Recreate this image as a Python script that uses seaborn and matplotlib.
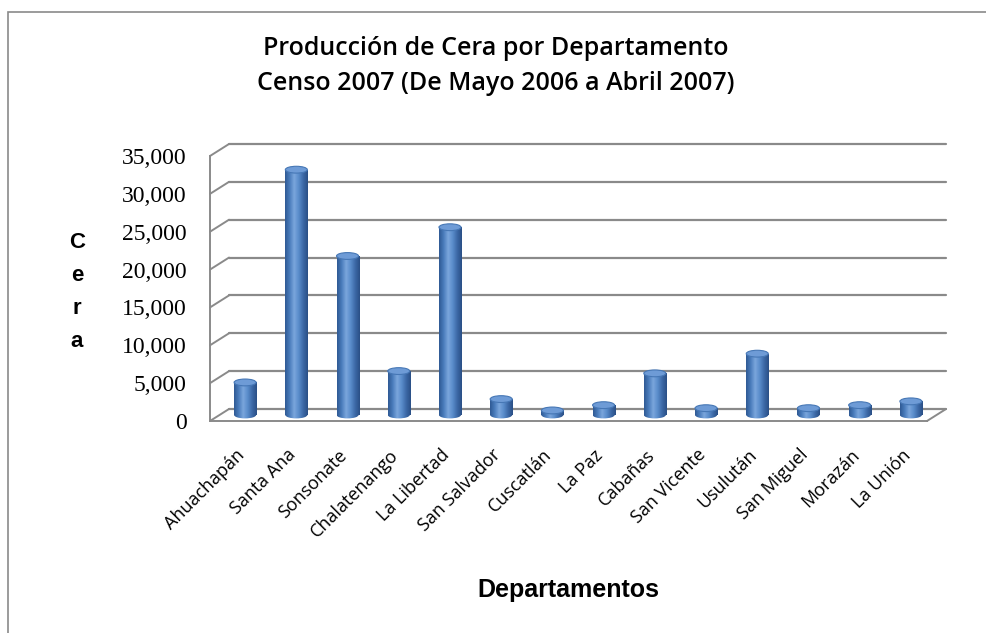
import numpy as np
import matplotlib
matplotlib.use("Agg")
import matplotlib.pyplot as plt
from matplotlib.patches import Ellipse, Rectangle
from matplotlib.colors import LinearSegmentedColormap
import seaborn as sns

# datos
departamentos = ["Ahuachapán", "Santa Ana", "Sonsonate", "Chalatenango", "La Libertad",
                 "San Salvador", "Cuscatlán", "La Paz", "Cabañas", "San Vicente",
                 "Usulután", "San Miguel", "Morazán", "La Unión"]
cera = [4300, 32400, 21000, 5800, 24800, 2100, 600, 1300, 5500, 900, 8100, 900, 1300, 1800]
y_ticks = [0, 5000, 10000, 15000, 20000, 25000, 30000, 35000]
y_max = 35000

titulo = "Producción de Cera por Departamento\nCenso 2007 (De Mayo 2006 a Abril 2007)"
GRID = "#8a8a8a"
BLUE = "#4f81bd"

sns.set_style("white")
plt.rcParams.update({"text.color": "black", "xtick.color": "black",
                     "ytick.color": "black"})
W, H = 986, 633
fig = plt.figure(figsize=(W / 100, H / 100), dpi=100)

# plano frontal del gráfico 3D (en píxeles)
x0, x1, y0, y1 = 210, 927, 421, 156
ax = fig.add_axes([x0 / W, 1 - y0 / H, (x1 - x0) / W, (y0 - y1) / H])
n = len(departamentos)
px_x = (x1 - x0) / n          # px por categoría
px_y = (y0 - y1) / y_max      # px por unidad
dx = 19 / px_x                # profundidad en unidades de datos
dy = 12 / px_y

sns.barplot(x=departamentos, y=cera, color=BLUE, width=0.43, ax=ax,
            saturation=1, edgecolor="none", zorder=5)
ax.set_xlim(-0.5, n - 0.5)
ax.set_ylim(0, y_max)

cyl = LinearSegmentedColormap.from_list(
    "cyl", ["#2f5a94", "#4a7cbc", "#7aa6dc", "#5a8ccb", "#3c69a6", "#2a4f86"])
grad = np.linspace(0, 1, 64).reshape(1, -1)
ell_h = 900

for p in ax.patches:
    p.set_x(p.get_x() + dx / 2)
    p.set_y(dy / 2)
    p.set_clip_on(False)
    bx, bw, bh = p.get_x(), p.get_width(), p.get_height()
    bottom = Ellipse((bx + bw / 2, dy / 2), bw, ell_h, facecolor="none",
                     edgecolor="none", clip_on=False)
    ax.add_patch(bottom)
    for clip in (p, bottom):
        im = ax.imshow(grad, extent=[bx, bx + bw, dy / 2 - ell_h, dy / 2 + bh],
                       aspect="auto", cmap=cyl, zorder=5, interpolation="bilinear")
        im.set_clip_path(clip)
    ax.add_patch(Ellipse((bx + bw / 2, dy / 2 + bh), bw, ell_h, facecolor="#6e9bd6",
                         edgecolor="#4677b5", lw=0.8, zorder=6, clip_on=False))

ax.set_xlim(-0.5, n - 0.5)
ax.set_ylim(0, y_max)

# pared de fondo y piso
for v in y_ticks:
    ax.plot([-0.5 + dx, n - 0.5 + dx], [v + dy, v + dy], color=GRID, lw=1.6,
            clip_on=False, zorder=1)
    ax.plot([-0.5, -0.5 + dx], [v, v + dy], color=GRID, lw=1.4, clip_on=False, zorder=1)
ax.plot([n - 0.5, n - 0.5 + dx], [0, dy], color=GRID, lw=1.4, clip_on=False, zorder=1)

sns.despine(ax=ax, top=True, right=True)
for s in ("left", "bottom"):
    ax.spines[s].set_color(GRID)
    ax.spines[s].set_linewidth(1.4)

ax.set_yticks(y_ticks)
ax.set_yticklabels([f"{v:,}" for v in y_ticks], family="Liberation Serif", fontsize=17)
ax.tick_params(axis="y", length=5, width=1.2, color=GRID, direction="out", pad=12)

ax.set_xticks(range(n))
ax.set_xticklabels(departamentos, rotation=45, ha="right", rotation_mode="anchor",
                   family="Open Sans", fontsize=13)
ax.tick_params(axis="x", which="major", length=0, pad=18)
ax.set_xticks(np.arange(-0.5, n), minor=True)
ax.tick_params(axis="x", which="minor", length=8, width=1.2, color=GRID, direction="out")
ax.set_xlabel("")
ax.set_ylabel("")
ax.grid(False)
ax.patch.set_alpha(0)

fig.text(496 / W, 1 - 66 / H, titulo, ha="center", va="center", family="Open Sans",
         fontweight="semibold", fontsize=18, linespacing=1.5)
fig.text(77 / W, 1 - 292 / H, "C\ne\nr\na", ha="center", va="center",
         family="Liberation Sans", fontweight="bold", fontsize=16, linespacing=1.75)
fig.text(568 / W, 1 - 590 / H, "Departamentos", ha="center", va="center",
         family="Liberation Sans", fontweight="bold", fontsize=18)

fig.patches.append(Rectangle((8 / W, -0.1), 1.2, 1.1 - 12 / H, transform=fig.transFigure,
                             fill=False, edgecolor="#8a8a8a", lw=1.2))

fig.savefig("out.png", dpi=100)
